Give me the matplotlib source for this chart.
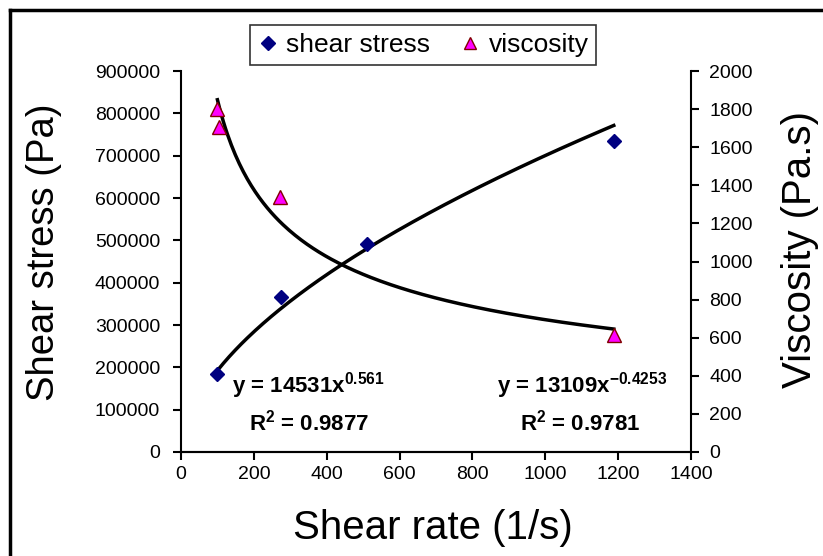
import numpy as np
import matplotlib
matplotlib.use("Agg")
from matplotlib import pyplot as plt
from matplotlib.lines import Line2D

plt.rcParams['font.family'] = ['Liberation Sans', 'DejaVu Sans']
plt.rcParams['mathtext.fontset'] = 'custom'
plt.rcParams['mathtext.rm'] = 'Liberation Sans'
plt.rcParams['mathtext.bf'] = 'Liberation Sans:bold'

# data
rate_stress = [100, 274, 511, 1188]
shear_stress = [184000, 365000, 492000, 735000]
rate_visc = [100, 104, 273, 1188]
viscosity = [1800, 1707, 1337, 614]

# power trendlines as printed on the chart
stress_fit = (14531, 0.561, 0.9877)
visc_fit = (13109, -0.4253, 0.9781)

fig = plt.figure(figsize=(8.23, 5.56), dpi=100)
ax = fig.add_axes([181/823, 1-452/556, 510/823, 381/556])
ax2 = ax.twinx()

xx = np.linspace(min(rate_stress), max(rate_stress), 200)
ax.plot(xx, stress_fit[0]*xx**stress_fit[1], color='black', lw=2.5, zorder=2)
xv = np.linspace(min(rate_visc), max(rate_visc), 200)
ax2.plot(xv, visc_fit[0]*xv**visc_fit[1], color='black', lw=2.5, zorder=2)

ax.plot(rate_stress, shear_stress, 'D', color='#000080', ms=7, ls='none', zorder=3)
ax2.plot(rate_visc, viscosity, '^', mfc='#FF00FF', mec='#800000', mew=1, ms=10, ls='none', zorder=3)

ax.set_xlim(0, 1400)
ax.set_ylim(0, 900000)
ax2.set_ylim(0, 2000)
ax.set_xticks(range(0, 1401, 200))
ax.set_yticks(range(0, 900001, 100000))
ax2.set_yticks(range(0, 2001, 200))

for a in (ax, ax2):
    a.spines['top'].set_visible(False)
    for s in a.spines.values():
        s.set_linewidth(1.5)
    a.tick_params(direction='out', length=6, width=1.5, labelsize=14)
ax.tick_params(axis='y', pad=9)
ax.tick_params(axis='x', pad=4)
ax2.tick_params(axis='y', pad=7)
ax2.spines['left'].set_visible(False)
ax.spines['right'].set_visible(False)

fig.text(433/823, 1-528/556, 'Shear rate (1/s)', fontsize=29, ha='center', va='center')
fig.text(44/823, 1-252/556, 'Shear stress (Pa)', fontsize=27.5, ha='center', va='center', rotation=90)
fig.text(800/823, 1-250/556, 'Viscosity (Pa.s)', fontsize=29, ha='center', va='center', rotation=90)

fig.text(232/823, 1-386/556, r'y = %dx$^{\mathbf{%g}}$' % (stress_fit[0], stress_fit[1]),
         fontsize=16, fontweight='bold', ha='left', va='center')
fig.text(309/823, 1-423/556, r'R$^{\mathbf{2}}$ = %.4f' % stress_fit[2],
         fontsize=16, fontweight='bold', ha='center', va='center')
fig.text(582/823, 1-386/556, r'y = %dx$^{\mathbf{%g}}$' % (visc_fit[0], visc_fit[1]),
         fontsize=16, fontweight='bold', ha='center', va='center')
fig.text(580/823, 1-423/556, r'R$^{\mathbf{2}}$ = %.4f' % visc_fit[2],
         fontsize=16, fontweight='bold', ha='center', va='center')

handles = [Line2D([], [], marker='D', color='#000080', ls='none', ms=7),
           Line2D([], [], marker='^', mfc='#FF00FF', mec='#800000', ls='none', ms=9)]
leg = fig.legend(handles, ['shear stress', 'viscosity'], loc='center', ncol=2,
                 bbox_to_anchor=(423/823, 1-45/556), fontsize=19, frameon=True,
                 fancybox=False, edgecolor='black', handlelength=0.8, handletextpad=0.3,
                 columnspacing=1.1, borderpad=0.3)
leg.get_frame().set_linewidth(1.2)

# outer chart border (only left and top edges visible)
fig.add_artist(Line2D([10/823, 10/823], [0, 1-10/556], color='black', lw=2.5, transform=fig.transFigure))
fig.add_artist(Line2D([10/823, 1], [1-10/556, 1-10/556], color='black', lw=2.5, transform=fig.transFigure))

fig.savefig('out.png', dpi=100)
